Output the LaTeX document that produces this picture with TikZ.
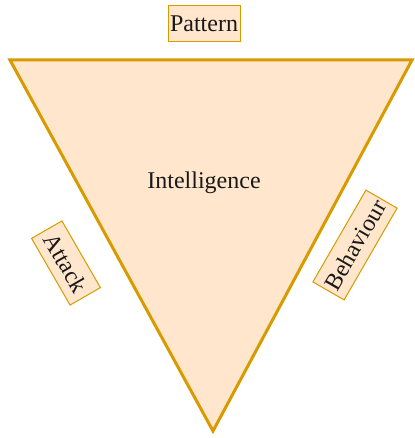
\documentclass[tikz,border=0pt]{standalone}
\usepackage{fontspec}
\setmainfont{Liberation Serif}
\definecolor{fillc}{HTML}{FFE6CC}
\definecolor{linec}{HTML}{D79B00}
\begin{document}
\begin{tikzpicture}[x=1pt,y=-1pt,
  txt/.style={font=\fontsize{24}{24}\selectfont,text=black!90},
  lbl/.style={txt,draw=linec,fill=fillc,line width=1pt,inner sep=0pt,minimum height=36pt},
  tri/.style={draw=linec,fill=fillc,line width=3pt,line join=miter}]
\useasboundingbox (0,0) rectangle (414,438);
\coordinate (tl) at (10,60);
\coordinate (tr) at (412,60);
\coordinate (bt) at (213,431);
\draw[tri] (tl) -- (tr) -- (bt) -- cycle;
\node[lbl,minimum width=72pt] (pattern) at (204,24) {Pattern};
\node[txt] (intel) at (204,183) {Intelligence};
\node[lbl,minimum width=77pt,minimum height=35pt,rotate=-60] (attack) at (66,263) {Attack};
\node[lbl,minimum width=106pt,rotate=60] (behav) at (355,245) {Behaviour};
\end{tikzpicture}
\end{document}
